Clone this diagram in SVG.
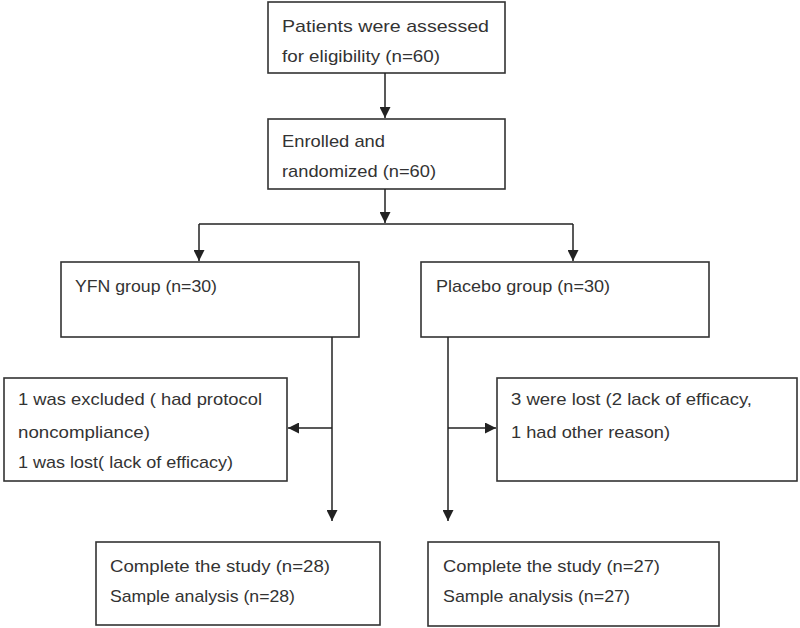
<svg xmlns="http://www.w3.org/2000/svg" width="800" height="628" viewBox="0 0 800 628">
<defs>
<marker id="ah" markerWidth="11" markerHeight="11" refX="11" refY="5.5" orient="auto" markerUnits="userSpaceOnUse">
<path d="M0,0 L11,5.5 L0,11 z" fill="#222"/>
</marker>
<style>
.box{fill:#fff;stroke:#333;stroke-width:1.6}
.t{font-family:"Liberation Sans",Arial,sans-serif;font-size:17px;fill:#333}
.c{fill:none;stroke:#222;stroke-width:1.5}
.a{marker-end:url(#ah)}
</style>
</defs>
<rect width="800" height="628" fill="#fff"/>
<g id="n1">
<rect class="box" x="268" y="2" width="237" height="71"/>
<text class="t" x="282" y="32" textLength="207" lengthAdjust="spacingAndGlyphs">Patients were assessed</text>
<text class="t" x="282" y="62" textLength="158" lengthAdjust="spacingAndGlyphs">for eligibility (n=60)</text>
</g>
<g id="n2">
<rect class="box" x="268" y="119" width="237" height="70"/>
<text class="t" x="282" y="147" textLength="103" lengthAdjust="spacingAndGlyphs">Enrolled and</text>
<text class="t" x="282" y="177" textLength="154" lengthAdjust="spacingAndGlyphs">randomized (n=60)</text>
</g>
<g id="n3">
<rect class="box" x="61" y="262" width="298" height="75"/>
<text class="t" x="75" y="292" textLength="142" lengthAdjust="spacingAndGlyphs">YFN group (n=30)</text>
</g>
<g id="n4">
<rect class="box" x="421" y="262" width="288" height="75"/>
<text class="t" x="436" y="292" textLength="174" lengthAdjust="spacingAndGlyphs">Placebo group (n=30)</text>
</g>
<g id="n5">
<rect class="box" x="4" y="378" width="283" height="103"/>
<text class="t" x="18" y="405" textLength="244" lengthAdjust="spacingAndGlyphs">1 was excluded ( had protocol</text>
<text class="t" x="18" y="438" textLength="132" lengthAdjust="spacingAndGlyphs">noncompliance)</text>
<text class="t" x="18" y="468" textLength="215" lengthAdjust="spacingAndGlyphs">1 was lost( lack of efficacy)</text>
</g>
<g id="n6">
<rect class="box" x="497" y="378" width="300" height="103"/>
<text class="t" x="511" y="405" textLength="241" lengthAdjust="spacingAndGlyphs">3 were lost (2 lack of efficacy,</text>
<text class="t" x="511" y="438" textLength="159" lengthAdjust="spacingAndGlyphs">1 had other reason)</text>
</g>
<g id="n7">
<rect class="box" x="96" y="542" width="284" height="83"/>
<text class="t" x="110" y="572" textLength="220" lengthAdjust="spacingAndGlyphs">Complete the study (n=28)</text>
<text class="t" x="110" y="602" textLength="185" lengthAdjust="spacingAndGlyphs">Sample analysis (n=28)</text>
</g>
<g id="n8">
<rect class="box" x="428" y="542" width="291" height="84"/>
<text class="t" x="443" y="572" textLength="217" lengthAdjust="spacingAndGlyphs">Complete the study (n=27)</text>
<text class="t" x="443" y="602" textLength="187" lengthAdjust="spacingAndGlyphs">Sample analysis (n=27)</text>
</g>
<g id="connectors">
<line class="c a" x1="385" y1="73" x2="385" y2="118"/>
<line class="c a" x1="385" y1="189" x2="385" y2="223"/>
<line class="c" x1="199" y1="224" x2="573" y2="224"/>
<line class="c a" x1="199" y1="224" x2="199" y2="261"/>
<line class="c a" x1="573" y1="224" x2="573" y2="261"/>
<line class="c a" x1="332" y1="337" x2="332" y2="521"/>
<line class="c a" x1="332" y1="428" x2="288" y2="428"/>
<line class="c a" x1="448" y1="337" x2="448" y2="521"/>
<line class="c a" x1="448" y1="428" x2="496" y2="428"/>
</g>
</svg>
